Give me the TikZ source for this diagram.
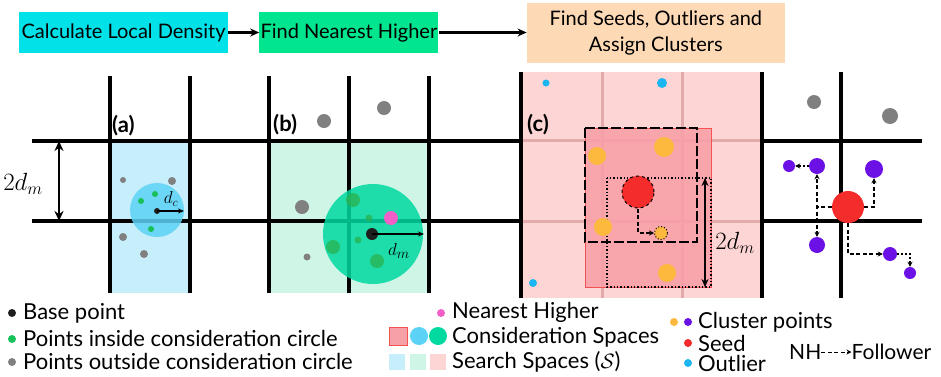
\documentclass[tikz,border=0pt]{standalone}
\usepackage{fontspec}
\setmainfont{Lato}
\usetikzlibrary{arrows.meta,positioning}
\definecolor{cyanbox}{HTML}{00E1E8}
\definecolor{greenbox}{HTML}{00E58E}
\definecolor{peachbox}{HTML}{FDD9B6}
\definecolor{searchblue}{HTML}{C6EEFB}
\definecolor{searchgreen}{HTML}{CFF5E6}
\definecolor{searchpink}{HTML}{FDD5D5}
\definecolor{softpink}{HTML}{E3AAAC}
\definecolor{consblue}{HTML}{5CD2F6}
\definecolor{consgreen}{HTML}{00D9A0}
\definecolor{consred}{HTML}{F8A0A8}
\definecolor{consedge}{HTML}{F25252}
\definecolor{ptgreen}{HTML}{18C05A}
\definecolor{ptdeep}{HTML}{2AB24E}
\definecolor{ptgrey}{HTML}{808080}
\definecolor{ptpink}{HTML}{F25FC8}
\definecolor{ptorange}{HTML}{FDB83E}
\definecolor{ptred}{HTML}{F42C2C}
\definecolor{ptpurple}{HTML}{6B11E6}
\definecolor{ptcyan}{HTML}{1BB5F2}
\begin{document}
\begin{tikzpicture}[
  x=1pt,y=-1pt,
  font=\fontsize{20}{24}\selectfont,
  >=Stealth,
  stage/.style={inner sep=0pt,align=center,minimum height=41pt},
  flow/.style={->,line width=2.5pt,>={Stealth[length=9pt,width=8pt]}},
  cellline/.style={line width=4pt},
  softline/.style={line width=3pt,draw=softpink},
  span/.style={<->,line width=2.5pt,>={Stealth[length=10pt,width=9pt]}},
  radial/.style={->,line width=1.6pt,>={Stealth[length=6pt,width=5pt]}},
  nhlink/.style={->,line width=1.3pt,dash pattern=on 4pt off 2.5pt,
                 >={Stealth[length=5pt,width=5pt]}},
  chain/.style={->,line width=1.3pt,dash pattern=on 2pt off 2pt,
                >={Stealth[length=5pt,width=5pt]}},
  spot/.style={circle,inner sep=0pt,minimum size=#1},
  ptbase/.style={spot=#1,fill=black!88},
  ptin/.style={spot=#1,fill=ptgreen},
  ptdark/.style={spot=#1,fill=ptdeep,fill opacity=0.75},
  ptout/.style={spot=#1,fill=ptgrey},
  ptnh/.style={spot=#1,fill=ptpink},
  ptclus/.style={spot=#1,fill=ptorange},
  ptviol/.style={spot=#1,fill=ptpurple},
  ptseed/.style={spot=#1,fill=ptred},
  ptoutl/.style={spot=#1,fill=ptcyan},
  conscirc/.style={spot=#1,fill opacity=0.85},
  panel/.style={font=\fontsize{22}{26}\selectfont\bfseries,inner sep=0pt},
  legtext/.style={inner sep=0pt,anchor=west,font=\fontsize{22}{26}\selectfont},
  swatch/.style={inner sep=0pt,minimum size=#1}
]
\useasboundingbox (0,0) rectangle (941,376);

\node[stage,fill=cyanbox,minimum width=209pt] (density) at (123.5,32.5)
  {Calculate Local Density};
\node[stage,fill=greenbox,minimum width=179pt,right=31pt of density] (nearest)
  {Find Nearest Higher};
\node[stage,fill=peachbox,minimum width=258pt,minimum height=60pt,
      right=88pt of nearest,font=\fontsize{20}{26}\selectfont] (seeds)
  {Find Seeds, Outliers and\\Assign Clusters};
\draw[flow] (density) -- (nearest);
\draw[flow] (nearest) -- (seeds);

\fill[searchblue] (110,141) rectangle (190,293);
\fill[searchgreen] (269,141) rectangle (429,293);
\fill[searchpink] (521,72) rectangle (762,298);
\draw[softline] (521,140) -- (762,140) (521,221) -- (762,221)
  (602,72) -- (602,298) (682,72) -- (682,298);

\draw[cellline] (32,141) -- (521,141) (32,221) -- (521,221);
\draw[cellline] (110,76) -- (110,293) (190,76) -- (190,293)
  (269,76) -- (269,293) (349,76) -- (349,293) (429,76) -- (429,293);
\draw[cellline] (521,72) -- (521,298) (762,72) -- (762,298) (841,72) -- (841,298);
\draw[cellline] (762,141) -- (922,141) (762,221) -- (922,221);

\coordinate (spanTop) at (59,141);
\coordinate (spanBot) at (59,221);
\draw[span] (spanTop) -- (spanBot);
\node[font=\fontsize{25}{28}\selectfont] (spanA) at (23,184) {$2d_m$};

\node[panel,anchor=west] (labA) at (112,126) {(a)};
\node[conscirc=54pt,fill=consblue] (circA) at (157,210) {};
\node[ptout=6pt] (ga1) at (123,180) {};
\node[ptout=8pt] (ga2) at (172,181) {};
\node[ptout=8pt] (ga3) at (123,237) {};
\node[ptout=8pt] (ga4) at (144,254) {};
\node[ptin=6pt] (gr1) at (155,194) {};
\node[ptin=6pt] (gr2) at (141,201) {};
\node[ptin=6pt] (gr3) at (151,229) {};
\node[ptbase=6pt] (baseA) at (157,211) {};
\coordinate (dcEnd) at (184,211);
\draw[radial] (baseA.center) -- (dcEnd);
\node[font=\fontsize{17}{20}\selectfont] (dc) at (171,199) {$d_c$};

\node[panel,anchor=west] (labB) at (273,125) {(b)};
\node[ptout=14pt] (gb1) at (324,121) {};
\node[ptout=14pt] (gb2) at (384,108) {};
\node[ptout=14pt] (gb3) at (302,207) {};
\node[ptout=7pt] (gb4) at (307,257) {};
\node[conscirc=100pt,fill=consgreen] (circB) at (373,234) {};
\node[ptdark=14pt] (dk1) at (353,200) {};
\node[ptdark=7pt] (dk2) at (369,218) {};
\node[ptdark=14pt] (dk3) at (333,247) {};
\node[ptdark=7pt] (dk4) at (358,240) {};
\node[ptdark=14pt] (dk5) at (377,261) {};
\node[ptnh=14pt] (nhB) at (391,218) {};
\node[ptbase=12pt] (baseB) at (372,234) {};
\coordinate (dmEnd) at (424,234);
\draw[radial] (baseB.center) -- (dmEnd);
\node[font=\fontsize{19}{22}\selectfont] (dm) at (399,251) {$d_m$};

\node[panel,anchor=west] (labC) at (527,125) {(c)};
\node[ptoutl=7pt] (ol1) at (546,83) {};
\node[ptoutl=10pt] (ol2) at (662,83) {};
\node[ptoutl=8pt] (ol3) at (533,283) {};
\filldraw[fill=consred,draw=consedge,line width=1pt,fill opacity=0.9]
  (585,128) rectangle (711,287);
\draw[line width=1.4pt,dotted] (607,178) rectangle (711,287);
\draw[line width=2pt,dash pattern=on 10pt off 3pt] (585,128) rectangle (697,242);
\node[ptclus=18pt] (oc1) at (597,156) {};
\node[ptclus=20pt] (oc2) at (664,147) {};
\node[ptclus=18pt] (oc3) at (603,227) {};
\node[ptclus=18pt] (oc4) at (667,273) {};
\node[ptseed=32pt,draw=black,dashed,line width=1pt] (seedC) at (638,192) {};
\node[ptclus=13pt,draw=black,dotted,line width=1pt] (folC) at (661,233) {};
\draw[nhlink] (seedC.south) |- (folC.west);
\coordinate (spanTopC) at (705,178);
\coordinate (spanBotC) at (705,287);
\draw[span,line width=2pt,>={Stealth[length=8pt,width=7pt]}] (spanTopC) -- (spanBotC);
\node[font=\fontsize{25}{28}\selectfont] (spanC) at (735,243) {$2d_m$};

\node[ptout=14pt] (gd1) at (814,102) {};
\node[ptout=16pt] (gd2) at (890,116) {};
\node[ptseed=32pt] (seedD) at (848,207) {};
\node[ptviol=16pt] (vA) at (817,166) {};
\node[ptviol=12pt] (vE) at (789,166) {};
\node[ptviol=18pt] (vC) at (874,169) {};
\node[ptviol=16pt] (vB) at (817,245) {};
\node[ptviol=14pt] (vD) at (890,254) {};
\node[ptviol=12pt] (vF) at (910,273) {};
\draw[nhlink] (seedD.west) -| (vA.south);
\draw[nhlink] (seedD.west) -| (vB.north);
\draw[nhlink] (seedD.east) -| (vC.south);
\draw[nhlink] (seedD.south) |- (vD.west);
\draw[chain] (vA.west) -- (vE.east);
\draw[chain] (vD.east) -| (vF.north);

\node[ptbase=8pt] (lgBase) at (12,313) {};
\node[legtext] (txBase) at (23,313) {Base point};
\node[ptin=8pt] (lgIn) at (12,339) {};
\node[legtext] (txIn) at (23,338) {Points inside consideration circle};
\node[ptout=8pt] (lgOut) at (12,362) {};
\node[legtext] (txOut) at (23,361) {Points outside consideration circle};

\node[ptnh=8pt] (lgNh) at (441,313) {};
\node[legtext] (txNh) at (452,312) {Nearest Higher};
\node[swatch=18pt,fill=consred,draw=consedge,line width=0.8pt] (lgSq) at (398,336) {};
\node[spot=18pt,fill=consblue] (lgCb) at (419,336) {};
\node[spot=18pt,fill=consgreen] (lgCg) at (438,336) {};
\node[legtext] (txCons) at (452,337) {Consideration Spaces};
\node[swatch=16pt,fill=searchblue] (lgSb) at (397,362) {};
\node[swatch=16pt,fill=searchgreen] (lgSg) at (418,362) {};
\node[swatch=16pt,fill=searchpink] (lgSp) at (438,362) {};
\node[legtext] (txSearch) at (452,362) {Search Spaces ($\mathcal{S}$)};

\node[ptclus=8pt] (lgOr) at (674,322) {};
\node[ptviol=8pt] (lgVi) at (688,322) {};
\node[legtext] (txClus) at (698,322) {Cluster points};
\node[ptseed=8pt] (lgSeed) at (688,343) {};
\node[legtext] (txSeed) at (698,343) {Seed};
\node[ptoutl=8pt] (lgOutl) at (688,363) {};
\node[legtext] (txOutl) at (698,363) {Outlier};

\node[legtext,font=\fontsize{21}{25}\selectfont] (txNH) at (789,352) {NH};
\node[legtext,font=\fontsize{21}{25}\selectfont,right=30pt of txNH] (txFol) {Follower};
\draw[nhlink,line width=1pt] (txNH) -- (txFol);
\end{tikzpicture}
\end{document}
